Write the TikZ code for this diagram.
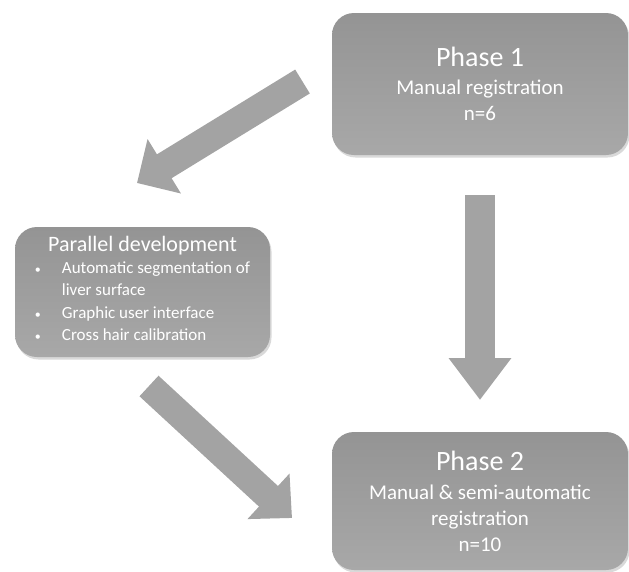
\documentclass[tikz,border=0pt]{standalone}
\usepackage{fontspec}
\setmainfont{Carlito}
\usetikzlibrary{shapes,shadows,arrows.meta}

\definecolor{boxtop}{RGB}{148,148,148}
\definecolor{boxbot}{RGB}{168,168,168}
\definecolor{arrowgray}{RGB}{163,163,163}

\begin{document}
\begin{tikzpicture}[x=1pt,y=-1pt]
\tikzstyle{every node}=[font=\fontsize{21}{26}\selectfont, text=white]
\tikzstyle{phase}=[rounded corners=22pt, top color=boxtop, bottom color=boxbot,
  drop shadow={shadow xshift=1.5pt, shadow yshift=-2.5pt, opacity=0.3}, align=center]
\tikzstyle{bigarrow}=[draw=arrowgray, line width=28pt]

\newcommand{\ttl}[1]{{\fontsize{28}{34}\selectfont #1}}
\newcommand{\bul}{{\fontsize{12}{12}\selectfont\textbullet}}

\useasboundingbox (0,0) rectangle (629,571);

\path (480,84) coordinate (p1);
\path (142.5,292) coordinate (pd);
\path (480,501) coordinate (p2);

\path (p1) node[phase, minimum width=296pt, minimum height=142pt] (phase1)
{\ttl{Phase 1}\\[2pt] Manual registration\\ n=6};

\path (pd) node[phase, minimum width=255pt, minimum height=130pt] (devel)
{{\fontsize{22}{26}\selectfont Parallel development}\\[1pt]
\fontsize{17}{22.5}\selectfont
\begin{tabular}{@{}p{27pt}@{}l@{}}
\bul & Automatic segmentation of\\
 & liver surface\\
\bul & Graphic user interface\\
\bul & Cross hair calibration
\end{tabular}};

\path (p2) node[phase, minimum width=296pt, minimum height=138pt] (phase2)
{\ttl{Phase 2}\\[3pt] Manual \& semi-automatic\\ registration\\ n=10};

% block arrows
\path (302.5,81.5) coordinate (a1s); \path (137,183) coordinate (a1e);
\path (480,195) coordinate (a2s); \path (480,400) coordinate (a2e);
\path (149,386) coordinate (a3s); \path (292,518) coordinate (a3e);

\draw[bigarrow, -{Triangle[width=62pt,length=32pt]}] (a1s) -- (a1e);
\draw[bigarrow, line width=30pt, -{Triangle[width=60pt,length=42pt]}] (a2s) -- (a2e);
\draw[bigarrow, -{Triangle[width=60pt,length=32pt]}] (a3s) -- (a3e);
\end{tikzpicture}
\end{document}
